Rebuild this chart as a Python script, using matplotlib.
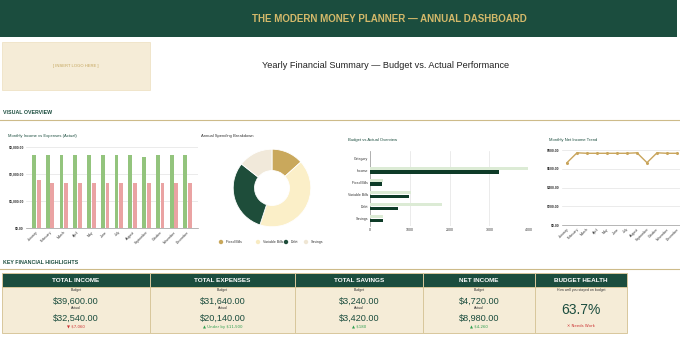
import matplotlib
matplotlib.use('Agg')
import matplotlib.pyplot as plt
from matplotlib.patches import Rectangle, Circle
from matplotlib.ticker import FuncFormatter

plt.rcParams['font.family'] = ['Liberation Sans', 'DejaVu Sans']

# ---------------- data ----------------
months = ['January', 'February', 'March', 'April', 'May', 'June', 'July',
          'August', 'September', 'October', 'November', 'December']
income_actual = [2720, 2720, 2720, 2720, 2720, 2720, 2720, 2720, 2620, 2720, 2720, 2720]
expenses_actual = [1770, 1665, 1665, 1665, 1665, 1665, 1665, 1665, 1665, 1665, 1665, 1665]
net_income = [665, 770, 765, 765, 765, 765, 765, 770, 665, 770, 765, 765]

spend_labels = ['Fixed Bills', 'Variable Bills', 'Debt', 'Savings']
spend_values = [310, 970, 711, 335]

overview_categories = ['Category', 'Income', 'Fixed Bills', 'Variable Bills', 'Debt', 'Savings']
overview_budget = [0, 3958, 318, 1038, 1800, 318]
overview_actual = [0, 3247, 310, 970, 711, 335]

kpi_titles = ['TOTAL INCOME', 'TOTAL EXPENSES', 'TOTAL SAVINGS', 'NET INCOME']
kpi_budget = ['$39,600.00', '$31,640.00', '$3,240.00', '$4,720.00']
kpi_actual = ['$32,540.00', '$20,140.00', '$3,420.00', '$8,980.00']
kpi_delta = ['\u25bc $7,060', '\u25b2 Under by $11,500', '\u25b2 $180', '\u25b2 $4,260']
kpi_delta_good = [False, True, True, True]
health_title = 'BUDGET HEALTH'
health_sub = 'How well you stayed on budget'
health_pct = 63.7
health_note = '\u2715 Needs Work'

# ---------------- style ----------------
DARK = '#1B4D3E'
GOLD = '#D4B96A'
CREAM = '#F5ECD7'
BORDER = '#D8C79C'
GREEN_BAR = '#93C47D'
RED_BAR = '#EAA3A3'
LINE_GOLD = '#C9A55C'
TXT = '#333333'

W, H = 680, 341
fig = plt.figure(figsize=(6.8, 3.41), dpi=100)
fig.patch.set_facecolor('white')
bg = fig.add_axes([0, 0, 1, 1])
bg.set_xlim(0, W)
bg.set_ylim(H, 0)
bg.axis('off')


def ax_px(x0, y0, x1, y1):
    return fig.add_axes([x0 / W, 1 - y1 / H, (x1 - x0) / W, (y1 - y0) / H])


# header
bg.add_patch(Rectangle((0, 0), 677, 37, facecolor=DARK, edgecolor='none'))
bg.text(389, 19, 'THE MODERN MONEY PLANNER \u2014 ANNUAL DASHBOARD', color=GOLD,
        fontsize=7, fontweight='bold', ha='center', va='center')
# logo
bg.add_patch(Rectangle((2, 42), 148, 48, facecolor=CREAM, edgecolor='#EFE3C6', lw=0.6))
bg.text(76, 66, '[ INSERT LOGO HERE ]', color='#C4A55C', fontsize=3, ha='center', va='center')
bg.text(386, 66, 'Yearly Financial Summary \u2014 Budget vs. Actual Performance', color='#222222',
        fontsize=6.6, ha='center', va='center')

# section headings
bg.text(3, 113, 'VISUAL OVERVIEW', color=DARK, fontsize=3.8, fontweight='bold', va='center')
bg.plot([0, 680], [120, 120], color='#CDBB8A', lw=0.8)
bg.text(3, 263, 'KEY FINANCIAL HIGHLIGHTS', color=DARK, fontsize=3.8, fontweight='bold', va='center')
bg.plot([0, 680], [269, 269], color='#CDBB8A', lw=0.8)

# chart titles
bg.text(8, 136, 'Monthly Income vs Expenses (Actual)', color=DARK, fontsize=3, va='center')
bg.text(201, 136, 'Annual Spending Breakdown', color=TXT, fontsize=3, va='center')
bg.text(348, 140, 'Budget vs Actual Overview', color=DARK, fontsize=3, va='center')
bg.text(549, 140, 'Monthly Net Income Trend', color=DARK, fontsize=3, va='center')

money_fmt = FuncFormatter(lambda v, p: '${:,.2f}'.format(v))


def style_axis(ax):
    for s in ['top', 'right', 'left']:
        ax.spines[s].set_visible(False)
    ax.spines['bottom'].set_color('#999999')
    ax.spines['bottom'].set_linewidth(0.5)
    ax.tick_params(length=0, labelsize=2.5, pad=1.5, colors='#333333')
    ax.set_facecolor('white')


# chart 1: income vs expenses
ax1 = ax_px(26, 147, 198, 228)
x = list(range(len(months)))
ax1.bar([i - 0.17 for i in x], income_actual, width=0.28, color=GREEN_BAR, zorder=3)
ax1.bar([i + 0.17 for i in x], expenses_actual, width=0.28, color=RED_BAR, zorder=3)
ax1.set_xlim(-0.75, 11.75)
ax1.set_ylim(0, 3000)
ax1.set_yticks([0, 1000, 2000, 3000])
ax1.yaxis.set_major_formatter(money_fmt)
ax1.set_xticks(x)
ax1.set_xticklabels(months, rotation=45, ha='right', rotation_mode='anchor')
ax1.grid(axis='y', color='#E3E3E3', lw=0.5, zorder=0)
style_axis(ax1)
for lab in ax1.get_yticklabels():
    lab.set_fontweight('bold')

# chart 2: donut
ax2 = ax_px(223.5, 139.5, 320.5, 236.5)
ax2.pie(spend_values, colors=['#C9A85C', '#FBEFC8', '#1E4D3A', '#F1E9DA'],
        startangle=90, counterclock=False,
        wedgeprops=dict(width=0.55, edgecolor='white', linewidth=0.6))
ax2.set_aspect('equal')
leg_cols = ['#C9A85C', '#F8EBC2', '#1E4D3A', '#EFE6D4']
leg_mx = [221, 258, 286, 306]
for lab, col, mx in zip(spend_labels, leg_cols, leg_mx):
    bg.add_patch(Circle((mx, 242), 2.2, facecolor=col, edgecolor='none'))
    bg.text(mx + 5, 242, lab, fontsize=2.5, color=TXT, va='center')

# chart 3: budget vs actual horizontal bars
ax3 = ax_px(370, 150.7, 529.3, 226.3)
rows = list(range(len(overview_categories)))
ax3.barh([r - 0.17 for r in rows], overview_budget, height=0.24, color='#DCEBD5', zorder=3)
ax3.barh([r + 0.14 for r in rows], overview_actual, height=0.28, color='#0E3B28', zorder=3)
ax3.set_ylim(5.6, -0.6)
ax3.set_xlim(0, 4000)
ax3.set_xticks([0, 1000, 2000, 3000, 4000])
ax3.set_yticks(rows)
ax3.set_yticklabels(overview_categories)
ax3.grid(axis='x', color='#E3E3E3', lw=0.5, zorder=0)
style_axis(ax3)
ax3.spines['bottom'].set_visible(False)
ax3.spines['left'].set_visible(True)
ax3.spines['left'].set_color('#999999')
ax3.spines['left'].set_linewidth(0.5)

# chart 4: net income trend
ax4 = ax_px(562, 150, 682, 225)
ax4.plot(x, net_income, color=LINE_GOLD, lw=1, marker='o', ms=1.2, zorder=3)
ax4.set_xlim(-0.5, 11.5)
ax4.set_ylim(0, 800)
ax4.set_yticks([0, 200, 400, 600, 800])
ax4.yaxis.set_major_formatter(money_fmt)
ax4.set_xticks(x)
ax4.set_xticklabels(months, rotation=45, ha='right', rotation_mode='anchor')
ax4.grid(axis='y', color='#E3E3E3', lw=0.5, zorder=0)
style_axis(ax4)
for lab in ax4.get_yticklabels():
    lab.set_fontweight('bold')

# KPI cards
card_x = [2, 150, 295, 423, 535, 627]
for i in range(5):
    x0, x1 = card_x[i], card_x[i + 1]
    cx = (x0 + x1) / 2
    bg.add_patch(Rectangle((x0, 287), x1 - x0, 46, facecolor=CREAM, edgecolor=BORDER, lw=0.7))
    bg.add_patch(Rectangle((x0, 273), x1 - x0, 14, facecolor=DARK, edgecolor=BORDER, lw=0.7))
    title = kpi_titles[i] if i < 4 else health_title
    bg.text(cx, 280, title, color='white', fontsize=4.6, fontweight='bold', ha='center', va='center')
    if i < 4:
        bg.text(cx, 290, 'Budget', color=TXT, fontsize=2.5, ha='center', va='center')
        bg.text(cx, 301, kpi_budget[i], color=DARK, fontsize=6.6, ha='center', va='center')
        bg.text(cx, 308, 'Actual', color=TXT, fontsize=2.5, ha='center', va='center')
        bg.text(cx, 318, kpi_actual[i], color=DARK, fontsize=6.6, ha='center', va='center')
        bg.text(cx, 327, kpi_delta[i], color='#2E9E4E' if kpi_delta_good[i] else '#CC3333',
                fontsize=2.8, ha='center', va='center',
                family=['DejaVu Sans'])
    else:
        bg.text(cx, 289.5, health_sub, color=TXT, fontsize=2.5, ha='center', va='center')
        bg.text(cx, 310, '{:.1f}%'.format(health_pct), color=DARK, fontsize=10, ha='center', va='center')
        bg.text(cx, 326, health_note, color='#CC3333', fontsize=2.8, ha='center', va='center',
                family=['DejaVu Sans'])

fig.savefig('out.png', dpi=100, facecolor='white')
